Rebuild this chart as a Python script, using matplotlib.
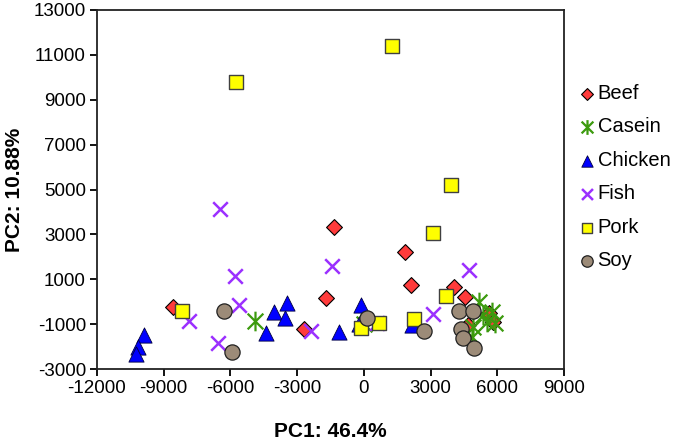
import matplotlib
matplotlib.use('Agg')
import matplotlib.pyplot as plt
from matplotlib.path import Path

plt.rcParams['font.family'] = ['Liberation Sans', 'DejaVu Sans']
plt.rcParams['axes.unicode_minus'] = False  # 用普通连字符作负号

# 各组 PCA 得分 (PC1, PC2)
beef_x = [-8570, -2690, -1720, -1340, 1850, 2100, 4050, 4550, 5640, 4700, 5790]
beef_y = [-220, -1220, 150, 3330, 2210, 740, 640, 230, -520, -1040, -890]

casein_x = [-4900, 0, 5190, 5370, 5750, 5900, 4920, 4840, 5520]
casein_y = [-860, -1000, 0, -590, -445, -960, -1120, -1560, -890]

chicken_x = [-9890, -10140, -10250, -4420, -4040, -3550, -3440, -1100, -130, -200, 2150]
chicken_y = [-1485, -2030, -2330, -1380, -445, -710, -70, -1340, -150, -1000, -1040]

fish_x = [-6480, -5780, -5600, -7860, -6545, -2390, -1420, 575, 3120, 4730]
fish_y = [4130, 1160, -150, -860, -1830, -1290, 1600, -935, -550, 1410]

pork_x = [1264, -5750, 3900, 3100, -8160, -130, 680, 2250, 3690]
pork_y = [11394, 9790, 5200, 3060, -415, -1160, -960, -770, 250]

soy_x = [-6290, -5945, 125, 2720, 4280, 4890, 4350, 4440, 4970]
soy_y = [-415, -2230, -710, -1310, -400, -400, -1230, -1630, -2080]

x_ticks = list(range(-12000, 9001, 3000))
y_ticks = list(range(-3000, 13001, 2000))

# Excel 风格的星号：X 加一条竖线
star = Path([(-0.8, -0.8), (0.8, 0.8), (-0.8, 0.8), (0.8, -0.8), (0, -1), (0, 1)],
            [Path.MOVETO, Path.LINETO, Path.MOVETO, Path.LINETO, Path.MOVETO, Path.LINETO])

fig = plt.figure(figsize=(6.75, 4.46), dpi=100)
ax = fig.add_axes([0.1437, 0.1726, 0.692, 0.805])

ax.scatter(beef_x, beef_y, marker='D', s=65, c='#FF3B3B', edgecolors='black', linewidths=0.8, label='Beef', zorder=3)
ax.scatter(casein_x, casein_y, marker=star, s=200, c='#3C9A0E', linewidths=1.6, label='Casein', zorder=3)
ax.scatter(chicken_x, chicken_y, marker='^', s=120, c='#0000FF', edgecolors='#000040', linewidths=0.6, label='Chicken', zorder=3)
ax.scatter(fish_x, fish_y, marker='x', s=110, c='#9B30FF', linewidths=1.8, label='Fish', zorder=3)
ax.scatter(pork_x, pork_y, marker='s', s=110, c='#FFFF00', edgecolors='#404040', linewidths=1.0, label='Pork', zorder=3)
ax.scatter(soy_x, soy_y, marker='o', s=120, c='#9C8B78', edgecolors='#202020', linewidths=0.9, label='Soy', zorder=3)

ax.set_xlim(-12000, 9000)
ax.set_ylim(-3000, 13000)
ax.set_xticks(x_ticks)
ax.set_yticks(y_ticks)
ax.tick_params(direction='out', length=5, width=1.3, labelsize=13.5, pad=3)

for sp in ax.spines.values():
    sp.set_linewidth(1.3)
    sp.set_color('#222222')

ax.set_xlabel('PC1: 46.4%', fontsize=15, fontweight='bold', labelpad=18)
ax.set_ylabel('PC2: 10.88%', fontsize=15, fontweight='bold', labelpad=7)

fig.legend(loc='upper left', bbox_to_anchor=(0.845, 0.83), frameon=False,
           fontsize=14.5, handletextpad=0.05, labelspacing=0.72, borderaxespad=0,
           markerscale=0.75, handlelength=0.9)

fig.savefig('out.png', dpi=100)
